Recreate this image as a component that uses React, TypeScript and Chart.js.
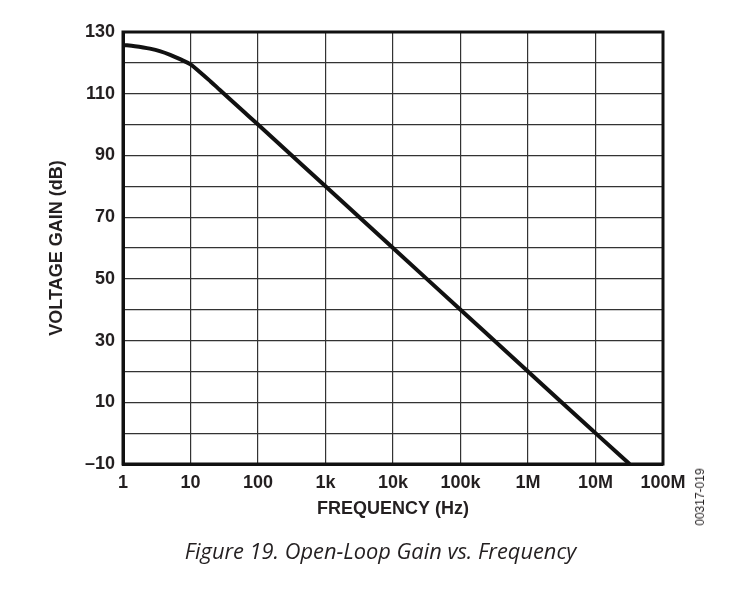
import React, { useEffect, useRef } from "react";
import { Chart, registerables } from "chart.js";

Chart.register(...registerables);

const frequencies = [1, 1.5, 2, 2.5, 3.5, 5, 7, 10, 14, 20, 27, 40, 60, 100, 1000, 10000, 100000, 1000000, 3000000, 10000000, 32000000];
const gainDb = [125.8, 125.4, 125.0, 124.6, 123.8, 122.6, 121.2, 119.5, 116.9, 113.9, 111.3, 107.9, 104.4, 100, 80, 60, 40, 20, 10.4, 0, -10];
const xTickValues = [1, 10, 100, 1000, 10000, 100000, 1000000, 10000000, 100000000];
const xTickLabels = ["1", "10", "100", "1k", "10k", "100k", "1M", "10M", "100M"];
const yLabelValues = [-10, 10, 30, 50, 70, 90, 110, 130];
const xTitle = "FREQUENCY (Hz)";
const yTitle = "VOLTAGE GAIN (dB)";
const caption = "Figure 19. Open-Loop Gain vs. Frequency";
const figureId = "00317-019";

const FONT = "'Liberation Sans', Arial, Helvetica, sans-serif";

export default function App() {
  const ref = useRef<HTMLCanvasElement | null>(null);

  useEffect(() => {
    const canvas = ref.current;
    if (!canvas) return;
    const chart = new Chart(canvas, {
      type: "line",
      data: {
        datasets: [
          {
            data: frequencies.map((f, i) => ({ x: f, y: gainDb[i] })),
            borderColor: "#111111",
            borderWidth: 4,
            pointRadius: 0,
            cubicInterpolationMode: "monotone",
            fill: false,
          },
        ],
      },
      options: {
        responsive: false,
        animation: false,
        events: [],
        layout: { padding: { left: 0, right: 93, top: 32, bottom: 0 } },
        plugins: { legend: { display: false }, tooltip: { enabled: false } },
        scales: {
          x: {
            type: "logarithmic",
            min: 1,
            max: 100000000,
            afterBuildTicks: (scale: any) => {
              scale.ticks = xTickValues.map((v) => ({ value: v }));
            },
            afterFit: (scale: any) => {
              scale.height = 131;
            },
            ticks: {
              autoSkip: false,
              maxRotation: 0,
              padding: 8,
              color: "#231f20",
              font: { family: FONT, size: 18, weight: "bold" },
              callback: (v: any) => {
                const i = xTickValues.indexOf(Number(v));
                return i >= 0 ? xTickLabels[i] : "";
              },
            },
            grid: { color: "#333333", lineWidth: 1.2, drawTicks: false },
            border: { color: "#111111", width: 3 },
            title: {
              display: true,
              text: xTitle,
              color: "#231f20",
              font: { family: FONT, size: 18, weight: "bold", lineHeight: 1.2 },
              padding: { top: 0, bottom: 75 },
            },
          },
          y: {
            min: -10,
            max: 130,
            afterFit: (scale: any) => {
              scale.width = 123;
            },
            ticks: {
              stepSize: 10,
              autoSkip: false,
              padding: 8,
              color: "#231f20",
              font: { family: FONT, size: 18, weight: "bold" },
              callback: (v: any) => {
                const n = Number(v);
                if (!yLabelValues.includes(n)) return "";
                return n < 0 ? "\u2013" + Math.abs(n) : String(n);
              },
            },
            grid: { color: "#333333", lineWidth: 1.2, drawTicks: false },
            border: { color: "#111111", width: 3 },
            title: {
              display: true,
              text: yTitle,
              color: "#231f20",
              font: { family: FONT, size: 18, weight: "bold", lineHeight: 1.2 },
              padding: { top: 46, bottom: 0 },
            },
          },
        },
      },
      plugins: [
        {
          id: "frame",
          afterDraw: (c: any) => {
            const { ctx, chartArea } = c;
            ctx.save();
            ctx.strokeStyle = "#111111";
            ctx.lineWidth = 3;
            ctx.strokeRect(chartArea.left, chartArea.top, chartArea.right - chartArea.left, chartArea.bottom - chartArea.top);
            ctx.restore();
          },
        },
      ],
    });
    return () => chart.destroy();
  }, []);

  return (
    <div style={{ position: "fixed", left: 0, top: 0, width: 756, height: 595, background: "#fff" }}>
      <canvas ref={ref} width={756} height={595} style={{ position: "absolute", left: 0, top: 0 }} />
      <div
        style={{
          position: "absolute",
          left: 0,
          width: 761,
          top: 536,
          textAlign: "center",
          fontFamily: "'Open Sans', 'Noto Sans', sans-serif",
          fontStyle: "italic",
          fontSize: 21.8,
          color: "#231f20",
          lineHeight: "30px",
          whiteSpace: "nowrap",
        }}
      >
        {caption}
      </div>
      <div
        style={{
          position: "absolute",
          left: 700,
          top: 497,
          transform: "translate(-50%, -50%) rotate(-90deg)",
          fontFamily: FONT,
          fontSize: 12,
          color: "#231f20",
          whiteSpace: "nowrap",
        }}
      >
        {figureId}
      </div>
    </div>
  );
}
